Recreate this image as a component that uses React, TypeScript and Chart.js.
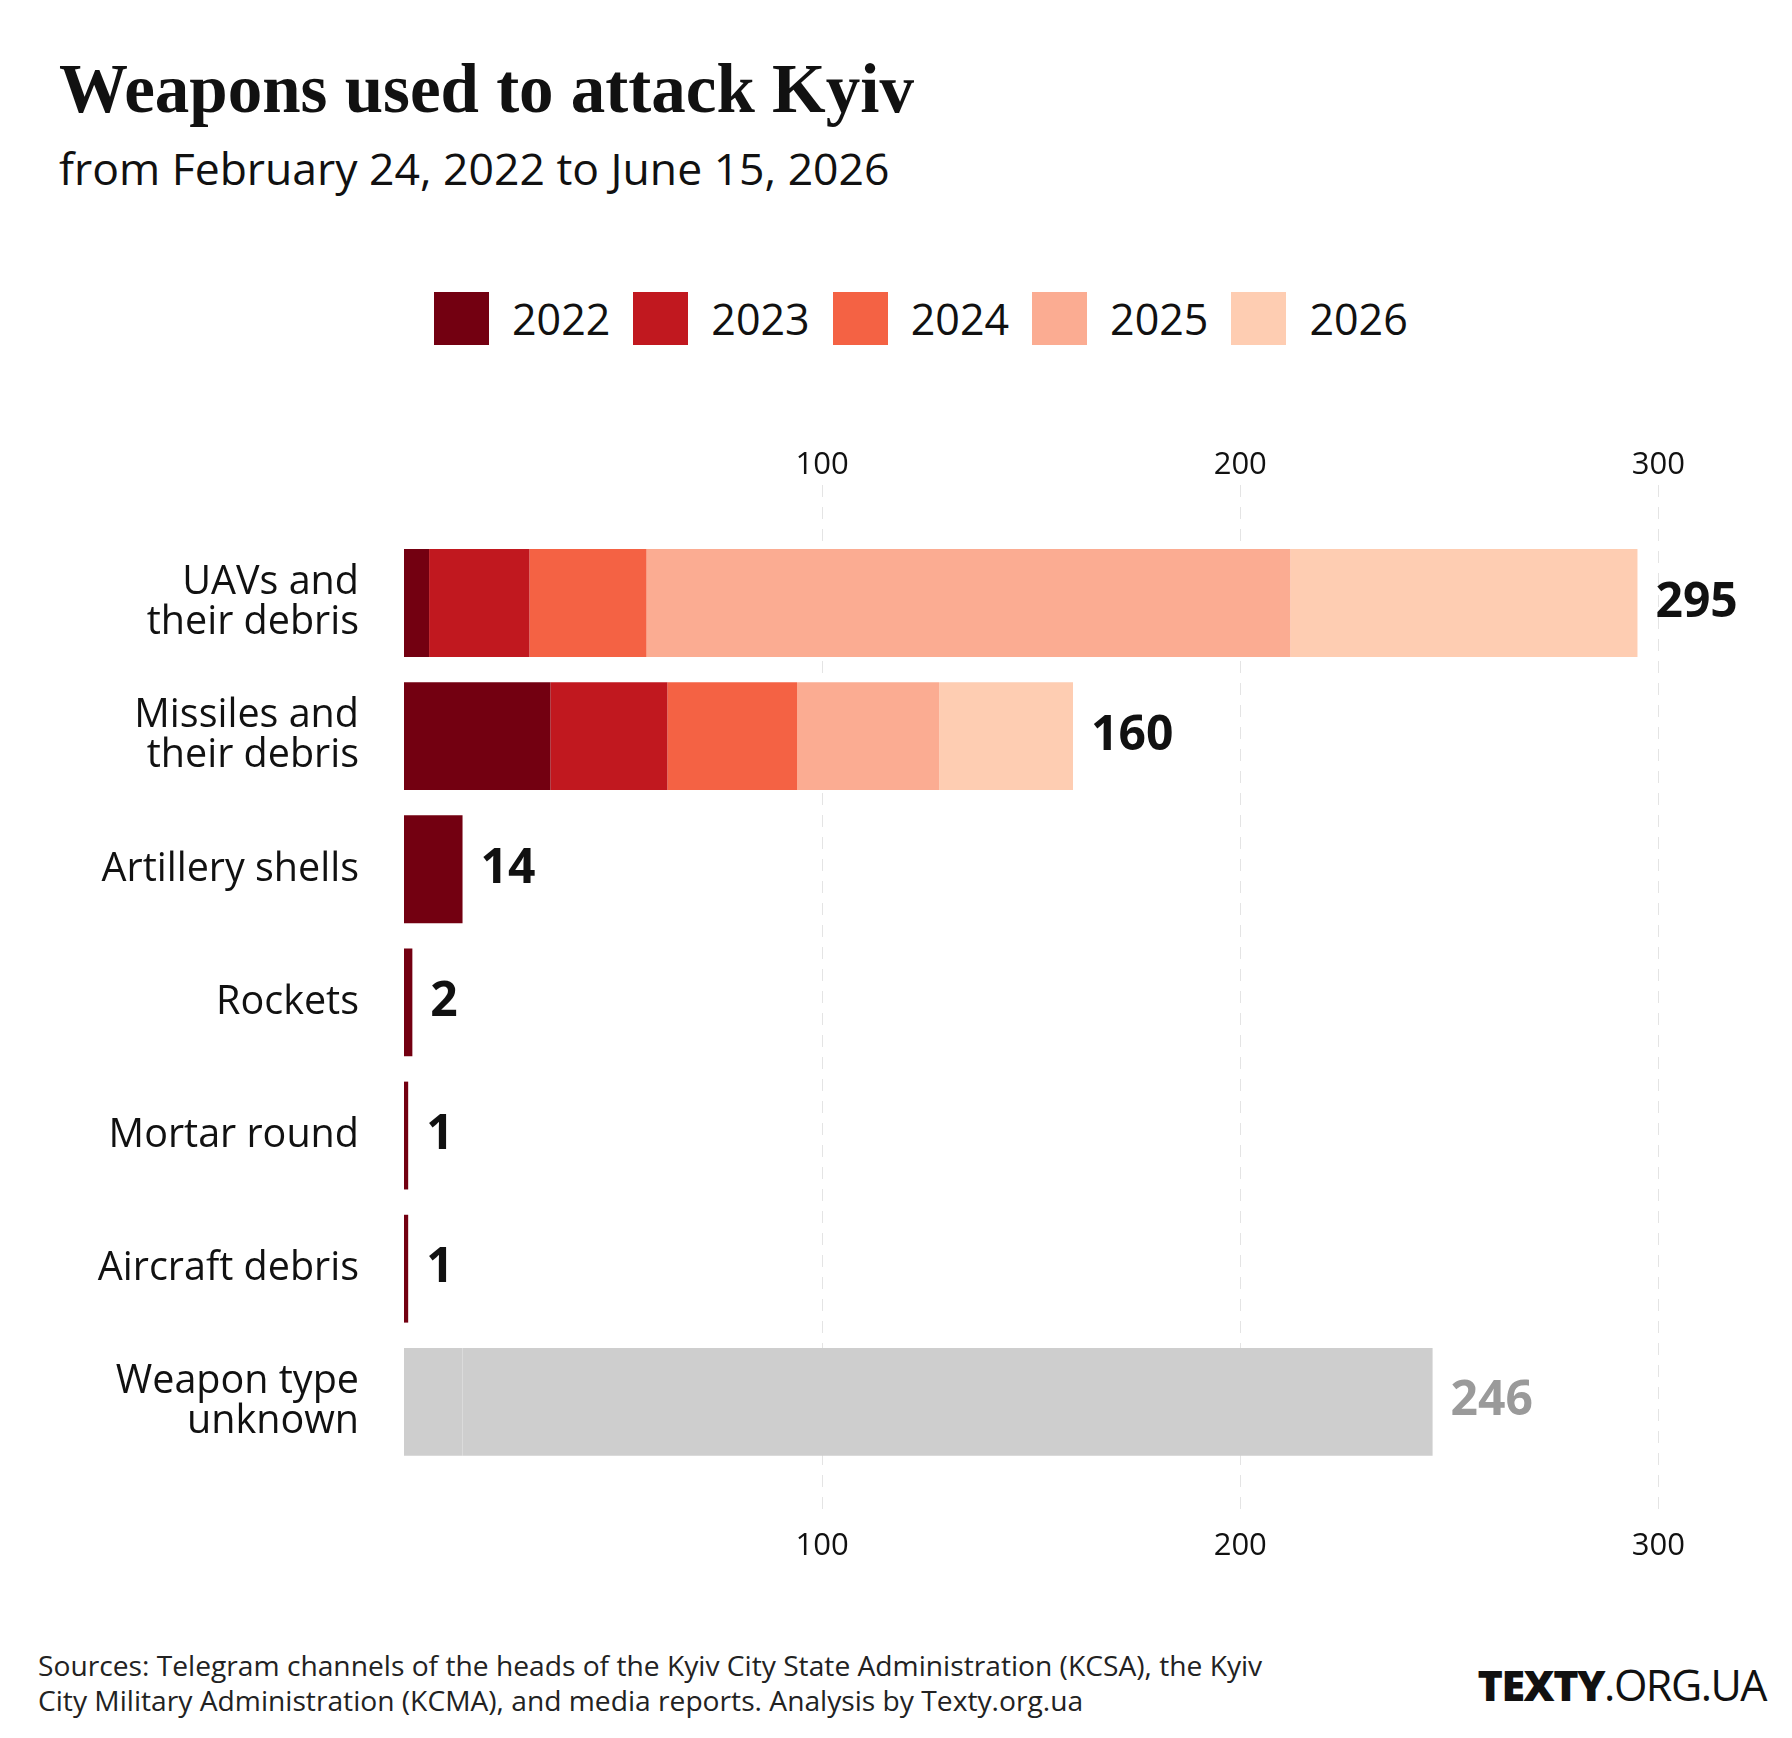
import React, { useEffect, useRef } from 'react';
import { Chart, registerables } from 'chart.js';

Chart.register(...registerables);

// ---- data ----
const categories: (string | string[])[] = [
  ['UAVs and', 'their debris'],
  ['Missiles and', 'their debris'],
  'Artillery shells',
  'Rockets',
  'Mortar round',
  'Aircraft debris',
  ['Weapon type', 'unknown'],
];
const years = ['2022', '2023', '2024', '2025', '2026'];
const values2022 = [6, 35, 14, 2, 1, 1, 14];
const values2023 = [24, 28, 0, 0, 0, 0, 0];
const values2024 = [28, 31, 0, 0, 0, 0, 0];
const values2025 = [154, 34, 0, 0, 0, 0, 157];
const values2026 = [83, 32, 0, 0, 0, 0, 75];
const xTicks = [100, 200, 300];

// ---- styles ----
const yearColors = ['#730011', '#c1181f', '#f46244', '#fbac92', '#fecdb2'];
const unknownColor = '#cecece';
const unknownIndex = 6;
const FONT = '"Open Sans", "DejaVu Sans", sans-serif';

const seriesValues = [values2022, values2023, values2024, values2025, values2026];
const totals = categories.map((_, i) => seriesValues.reduce((s, arr) => s + arr[i], 0));

const valueLabels = {
  id: 'valueLabels',
  afterDatasetsDraw(chart: any) {
    const { ctx } = chart;
    const x = chart.scales.x;
    const y = chart.scales.y;
    ctx.save();
    ctx.font = `bold 48px ${FONT}`;
    ctx.textBaseline = 'middle';
    ctx.textAlign = 'left';
    totals.forEach((t, i) => {
      ctx.fillStyle = i === unknownIndex ? '#9a9a9a' : '#111111';
      ctx.fillText(String(t), x.getPixelForValue(t) + 18, y.getPixelForValue(i));
    });
    ctx.restore();
  },
};

function ChartCanvas() {
  const ref = useRef<HTMLCanvasElement | null>(null);
  useEffect(() => {
    if (!ref.current) return;
    const setTicks = (vals: number[]) => (s: any) => {
      s.ticks = vals.map((v) => ({ value: v }));
    };
    const chart = new Chart(ref.current, {
      type: 'bar',
      data: {
        datasets: years.map((yr, k) => ({
          label: yr,
          data: seriesValues[k].map((v, i) => ({ x: v, y: i })) as any,
          backgroundColor: seriesValues[k].map((_, i) => (i === unknownIndex ? unknownColor : yearColors[k])),
          borderWidth: 0,
          categoryPercentage: 1,
          barPercentage: 0.81,
          xAxisID: 'x',
          yAxisID: 'y',
        })),
      },
      options: {
        indexAxis: 'y',
        animation: false,
        responsive: false,
        maintainAspectRatio: false,
        layout: { padding: { left: 0, right: 50, top: 0, bottom: 0 } },
        plugins: { legend: { display: false }, tooltip: { enabled: false } },
        scales: {
          x: {
            type: 'linear',
            position: 'bottom',
            stacked: true,
            min: 0,
            max: 320,
            offset: false,
            afterBuildTicks: setTicks(xTicks),
            afterFit: (s: any) => { s.height = 85; },
            grid: { display: true, color: '#e4e4e4', lineWidth: 1, drawTicks: false },
            border: { display: false, dash: [12, 10] },
            ticks: { color: '#111', padding: 13, font: { family: FONT, size: 31 } },
          },
          x2: {
            type: 'linear',
            position: 'top',
            min: 0,
            max: 320,
            offset: false,
            afterBuildTicks: setTicks(xTicks),
            afterFit: (s: any) => { s.height = 80; },
            grid: { display: false, drawTicks: false },
            border: { display: false },
            ticks: { color: '#111', padding: 1, font: { family: FONT, size: 31 } },
          },
          y: {
            type: 'linear',
            position: 'left',
            reverse: true,
            stacked: true,
            offset: false,
            min: -0.886,
            max: 6.85,
            afterBuildTicks: setTicks(categories.map((_, i) => i)),
            afterFit: (s: any) => { s.width = 404; },
            grid: { display: false, drawTicks: false, offset: false },
            border: { display: false },
            ticks: {
              autoSkip: false,
              color: '#111',
              padding: 45,
              font: { family: FONT, size: 39.5, lineHeight: '40px' },
              callback: (v: any) => categories[Math.round(Number(v))] as any,
            },
          },
        },
      } as any,
      plugins: [valueLabels],
    });
    return () => chart.destroy();
  }, []);
  return (
    <canvas
      ref={ref}
      width={1792}
      height={1200}
      style={{ position: 'absolute', left: 0, top: 400, width: 1792, height: 1200 }}
    />
  );
}

export default function App() {
  return (
    <div
      style={{
        position: 'absolute',
        left: 0,
        top: 0,
        width: 1792,
        height: 1738,
        background: '#ffffff',
        fontFamily: FONT,
        color: '#111',
        overflow: 'hidden',
      }}
    >
      <div
        style={{
          position: 'absolute',
          left: 59,
          top: 55,
          fontFamily: '"Liberation Serif", serif',
          fontWeight: 700,
          fontSize: 69,
          lineHeight: 1,
          whiteSpace: 'nowrap',
        }}
      >
        Weapons used to attack Kyiv
      </div>
      <div
        style={{
          position: 'absolute',
          left: 59,
          top: 146,
          fontSize: 44.5,
          lineHeight: 1,
          whiteSpace: 'nowrap',
        }}
      >
        from February 24, 2022 to June 15, 2026
      </div>
      <div
        style={{
          position: 'absolute',
          left: 434,
          top: 292,
          height: 53,
          display: 'flex',
          alignItems: 'center',
          whiteSpace: 'nowrap',
        }}
      >
        {years.map((yr, k) => (
          <div key={yr} style={{ display: 'flex', alignItems: 'center', marginRight: 23 }}>
            <div style={{ width: 55, height: 53, background: yearColors[k], marginRight: 23 }} />
            <span style={{ fontSize: 43, lineHeight: 1 }}>{yr}</span>
          </div>
        ))}
      </div>
      <ChartCanvas />
      <div
        style={{
          position: 'absolute',
          left: 38,
          top: 1648,
          fontSize: 28.2,
          lineHeight: '35px',
          color: '#222',
          whiteSpace: 'nowrap',
        }}
      >
        Sources: Telegram channels of the heads of the Kyiv City State Administration (KCSA), the Kyiv
        <br />
        City Military Administration (KCMA), and media reports. Analysis by Texty.org.ua
      </div>
      <div
        style={{
          position: 'absolute',
          right: 26,
          top: 1660,
          fontSize: 43,
          lineHeight: '50px',
          letterSpacing: -1.5,
          color: '#111',
          whiteSpace: 'nowrap',
        }}
      >
        <span style={{ fontWeight: 800 }}>TEXTY</span>
        <span style={{ fontWeight: 400 }}>.ORG.UA</span>
      </div>
    </div>
  );
}
